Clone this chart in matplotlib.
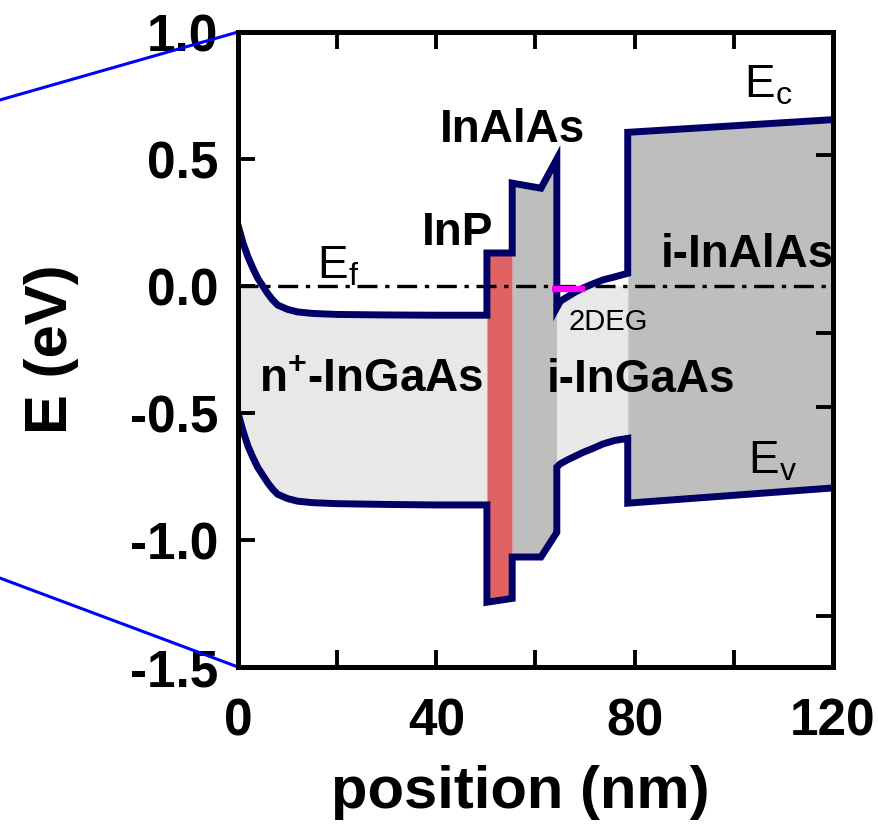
import matplotlib
matplotlib.use('Agg')
import matplotlib.pyplot as plt
import numpy as np

plt.rcParams['font.family'] = ['Liberation Sans', 'DejaVu Sans']
plt.rcParams['mathtext.fontset'] = 'custom'
plt.rcParams['mathtext.rm'] = 'Liberation Sans'
plt.rcParams['mathtext.bf'] = 'Liberation Sans:bold'
plt.rcParams['mathtext.default'] = 'regular'

# ---------------- data ----------------
# layer 1: n+-InGaAs
l1_x = [0, 1, 2, 3, 4, 5, 6, 7, 8, 10, 12, 15, 20, 30, 40, 50.2]
l1_ec = [0.24, 0.17, 0.115, 0.07, 0.03, 0.0, -0.03, -0.055, -0.075, -0.092,
         -0.102, -0.108, -0.112, -0.114, -0.115, -0.115]
l1_ev = [-0.50, -0.57, -0.63, -0.675, -0.715, -0.745, -0.775, -0.80, -0.82,
         -0.837, -0.847, -0.853, -0.857, -0.86, -0.862, -0.862]
# layer 2: InP
l2_x = [50.2, 55.3]
l2_ec = [0.13, 0.13]
l2_ev = [-1.245, -1.23]
# layer 3: InAlAs
l3_x = [55.3, 61.1, 64.3]
l3_ec = [0.405, 0.385, 0.50]
l3_ev = [-1.067, -1.067, -0.97]
# layer 4: i-InGaAs
l4_x = [64.3, 65, 66.4, 68, 69.6, 71.5, 73.6, 76, 78.6]
l4_ec = [-0.085, -0.06, -0.043, -0.024, -0.008, 0.008, 0.024, 0.036, 0.05]
l4_ev = [-0.713, -0.70, -0.685, -0.67, -0.655, -0.64, -0.622, -0.608, -0.60]
# layer 5: i-InAlAs
l5_x = [78.6, 120]
l5_ec = [0.605, 0.655]
l5_ev = [-0.855, -0.795]

layer_colors = ['#e8e8e8', '#e06262', '#bebebe', '#e8e8e8', '#bebebe']
layer_fill_to_ef = [True, False, False, True, False]

fermi_level = 0.0
twodeg_x = [63.3, 70.0]
twodeg_y = [-0.01, -0.01]

x_ticks = [0, 20, 40, 60, 80, 100, 120]
x_ticklabels = ['0', '', '40', '', '80', '', '120']
y_ticks = [1.0, 0.5, 0.0, -0.5, -1.0, -1.5]
y_ticklabels = ['1.0', '0.5', '0.0', '-0.5', '-1.0', '-1.5']
right_ticks = [0.515, -0.185, -0.476, -1.30]

# ---------------- figure ----------------
fig = plt.figure(figsize=(8.79, 8.30), dpi=100)
ax = fig.add_axes([238/879, 1-667/830, (833-238)/879, (667-32)/830])

layers = [(l1_x, l1_ec, l1_ev), (l2_x, l2_ec, l2_ev), (l3_x, l3_ec, l3_ev),
          (l4_x, l4_ec, l4_ev), (l5_x, l5_ec, l5_ev)]

for (lx, lec, lev), col, to_ef in zip(layers, layer_colors, layer_fill_to_ef):
    lx = np.array(lx); lec = np.array(lec); lev = np.array(lev)
    top = np.minimum(lec, fermi_level) if to_ef else lec
    ax.fill_between(lx, lev, top, color=col, linewidth=0, zorder=1)

ax.axhline(fermi_level, color='black', lw=2.4, dashes=(6, 2.3, 1.3, 2.3), zorder=2)

ec_x = np.concatenate([l[0] for l in layers])
ec_y = np.concatenate([l[1] for l in layers])
ev_y = np.concatenate([l[2] for l in layers])
line_col = '#000066'
ax.plot(ec_x, ec_y, color=line_col, lw=5, zorder=3, solid_joinstyle='miter')
ax.plot(ec_x, ev_y, color=line_col, lw=5, zorder=3, solid_joinstyle='miter')
ax.plot(twodeg_x, twodeg_y, color='#ff00ff', lw=4.5, zorder=4, solid_capstyle='butt')

ax.set_xlim(0, 120)
ax.set_ylim(-1.5, 1.0)

# texts
bold = dict(fontsize=33, fontweight='bold', ha='center', va='center', zorder=5)
ax.text(55.3, 0.614, 'InAlAs', **bold)
ax.text(44.2, 0.21, 'InP', **bold)
ax.text(102.7, 0.122, 'i-InAlAs', **bold)
ax.text(26.8, -0.37, r'n$^{\mathbf{+}}$-InGaAs', **bold)
ax.text(81.3, -0.37, 'i-InGaAs', **bold)
norm = dict(fontsize=33, ha='center', va='center', zorder=5)
ax.text(20.2, 0.075, r'E$_{\mathrm{f}}$', **norm)
ax.text(107.0, 0.79, r'E$_{\mathrm{c}}$', **norm)
ax.text(107.8, -0.69, r'E$_{\mathrm{v}}$', **norm)
ax.text(74.6, -0.14, '2DEG', fontsize=21, ha='center', va='center', zorder=5)

# right-hand ticks (separate twin axis, drawn on top of the fills)
ax2 = ax.twinx()
ax2.set_ylim(-1.5, 1.0)
ax2.set_yticks(right_ticks)
ax2.tick_params(axis='y', direction='in', length=12, width=2.8, labelright=False)
for s in ax2.spines.values():
    s.set_linewidth(3.6)

# axes styling
for s in ax.spines.values():
    s.set_linewidth(3.6)
    s.set_zorder(6)
ax.set_xticks(x_ticks)
ax.set_xticklabels(x_ticklabels)
ax.set_yticks(y_ticks)
ax.set_yticklabels(y_ticklabels)
ax.tick_params(axis='x', direction='in', top=True, length=12, width=2.8,
               labelsize=37, pad=22)
ax.tick_params(axis='y', direction='in', right=False, length=12, width=2.8,
               labelsize=37, pad=14)
for lab in ax.get_xticklabels() + ax.get_yticklabels():
    lab.set_fontweight('bold')

ax.set_xlabel('position (nm)', fontsize=43, fontweight='bold')
ax.xaxis.set_label_coords(0.474, -0.155)
ax.set_ylabel('E (eV)', fontsize=43, fontweight='bold')
ax.yaxis.set_label_coords(-0.268, 0.5)

# zoom indicator lines
ax.plot([-0.40, 0.0], [0.893, 1.0], color='#0000ff', lw=2.2, transform=ax.transAxes,
        clip_on=False, zorder=7)
ax.plot([-0.40, 0.0], [0.14, 0.0], color='#0000ff', lw=2.2, transform=ax.transAxes,
        clip_on=False, zorder=7)

fig.savefig('out.png', dpi=100)
